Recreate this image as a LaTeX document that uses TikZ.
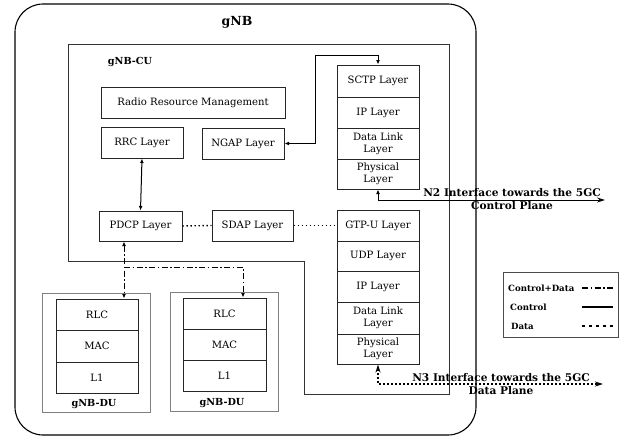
\documentclass[tikz,border=0pt]{standalone}
\usepackage{fontspec}
\setmainfont{DejaVu Serif}
\usetikzlibrary{arrows.meta,calc}
\begin{document}
\begin{tikzpicture}[x=1pt,y=-1pt,
  box/.style={draw=black!85,line width=1pt,rectangle,inner sep=1pt,align=center,font=\fontsize{10.1}{12.2}\selectfont},
  cell/.style={box,minimum width=82pt,minimum height=31pt},
  lbl/.style={font=\fontsize{9.7}{11}\selectfont\bfseries,align=center,inner sep=0pt},
  ifl/.style={font=\fontsize{10.6}{13}\selectfont\bfseries,align=center,inner sep=0pt},
  lgl/.style={font=\fontsize{8.6}{10}\selectfont\bfseries,inner sep=0pt},
  arr/.style={line width=1pt,arrows={Latex[length=4.5pt,width=3.8pt]-Latex[length=4.5pt,width=3.8pt]}},
  cd/.style={line width=1pt,dash pattern=on 6pt off 2.5pt on 1.5pt off 2.5pt},
  dat/.style={line width=1.4pt,dash pattern=on 1.4pt off 2.6pt},
]
\useasboundingbox (0,0) rectangle (626,437);
% gNB outer
\draw[line width=1.1pt,rounded corners=28pt] (15,4) rectangle (476,435);
\node[lbl,font=\fontsize{12.5}{14}\selectfont\bfseries] (gnb) at (237,22) {gNB};
% CU outline
\draw[line width=1pt,draw=black!80] (68,44) -- (449,44) -- (449,394) -- (304,394) -- (304,261) -- (68,261) -- cycle;
\node[lbl] (cu) at (130,62) {gNB-CU};
% CU boxes
\node[box,minimum width=184pt,minimum height=31pt] (rrm) at (193,102.5) {Radio Resource Management};
\node[box,minimum width=82pt,minimum height=31pt] (rrc) at (142,142.5) {RRC Layer};
\node[box,minimum width=82pt,minimum height=31pt] (ngap) at (243,143.5) {NGAP Layer};
\node[box,minimum width=83pt,minimum height=30pt] (pdcp) at (140.5,226) {PDCP Layer};
\node[box,minimum width=81pt,minimum height=31pt] (sdap) at (252.5,225.5) {SDAP Layer};
% N2 stack
\node[cell,minimum height=32pt] (sctp) at (378,81) {SCTP Layer};
\node[cell] (ip1) at (378,112.5) {IP Layer};
\node[cell] (dl1) at (378,143.5) {Data Link\\Layer};
\node[cell,minimum height=30pt] (ph1) at (378,174) {Physical\\Layer};
% N3 stack
\node[cell] (gtp) at (378,225.5) {GTP-U Layer};
\node[cell,minimum height=30pt] (udp) at (378,256) {UDP Layer};
\node[cell] (ip2) at (378,286.5) {IP Layer};
\node[cell,minimum height=32pt] (dl2) at (378,318) {Data Link\\Layer};
\node[cell,minimum height=30pt] (ph2) at (378,349) {Physical\\Layer};
% DU 1
\draw[draw=black!50,line width=0.9pt] (42,293) rectangle (150,412);
\node[cell] (rlc1) at (97,314.5) {RLC};
\node[cell,minimum height=32pt] (mac1) at (97,346) {MAC};
\node[cell] (l11) at (97,377.5) {L1};
\node[lbl] (du1) at (94,404) {gNB-DU};
% DU 2
\draw[draw=black!50,line width=0.9pt] (170,292) rectangle (278,411);
\node[cell,minimum width=83pt] (rlc2) at (224.5,313.5) {RLC};
\node[cell,minimum width=83pt] (mac2) at (224.5,344.5) {MAC};
\node[cell,minimum width=83pt] (l12) at (224.5,375.5) {L1};
\node[lbl] (du2) at (222,403) {gNB-DU};
% connectors
\coordinate (n2a) at (315,55);
\draw[arr] (ngap.east) -| (n2a) -| (sctp.north);
\draw[arr] (rrc.south) -- (pdcp.north);
\draw[dat] (pdcp.east) -- (sdap.west);
\draw[dat] (sdap.east) -- (gtp.west);
\coordinate (cdx) at (124,0);
\coordinate (br) at (124,267);
\coordinate (du2x) at (243,0);
\draw[cd,arr] (pdcp.south -| cdx) -- (rlc1.north -| cdx);
\draw[cd,arr,arrows={-Latex[length=4.5pt,width=3.8pt]}] (br) -| (rlc2.north -| du2x);
% N2 interface
\coordinate (n2e) at (605,200);
\draw[line width=1pt,arrows={Latex[length=4.5pt,width=3.8pt]-Stealth[length=8pt,width=5pt]}] (ph1.south) |- (n2e);
\node[ifl] (n2l) at (512,199.5) {N2 Interface towards the 5GC\\Control Plane};
% N3 interface
\coordinate (n3e) at (603,384);
\draw[dat,arrows={Stealth[length=8pt,width=5pt]-Stealth[length=8pt,width=5pt]}] (ph2.south) |- (n3e);
\node[ifl] (n3l) at (501,384.5) {N3 Interface towards the 5GC\\Data Plane};
% legend
\node[draw=black!70,line width=0.9pt,minimum width=115pt,minimum height=65pt] (leg) at (560.5,304.5) {};
\node[lgl,anchor=west] (lt1) at (508,288) {Control+Data};
\node[lgl,anchor=west] (lt2) at (510,307) {Control};
\node[lgl,anchor=west] (lt3) at (511,326) {Data};
\coordinate (la1) at (582,288); \coordinate (lb1) at (613,288);
\coordinate (la2) at (582,307); \coordinate (lb2) at (613,307);
\coordinate (la3) at (582,326); \coordinate (lb3) at (613,326);
\draw[cd,line width=1.1pt] (la1) -- (lb1);
\draw[line width=1.1pt] (la2) -- (lb2);
\draw[line width=1.1pt,dash pattern=on 3pt off 4pt] (la3) -- (lb3);
\end{tikzpicture}
\end{document}
